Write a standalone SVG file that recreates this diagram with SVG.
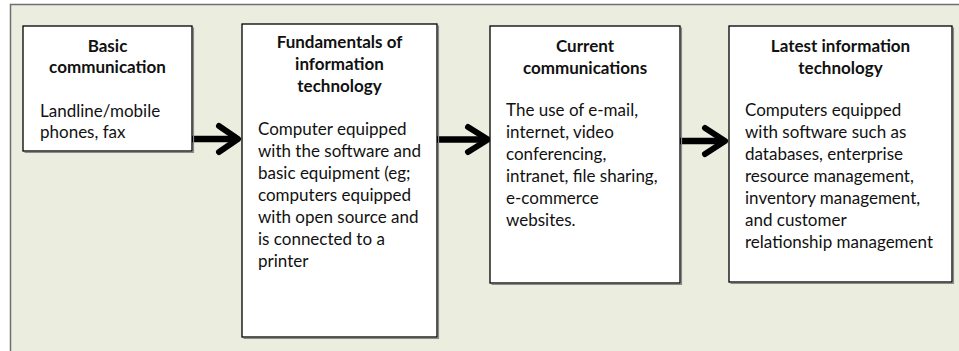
<svg xmlns="http://www.w3.org/2000/svg" width="959" height="351" viewBox="0 0 959 351">
  <style>
    .panel { fill: #ebeedf; stroke: #6f6f6f; stroke-width: 1.5; }
    .box { fill: #ffffff; stroke: #000000; stroke-width: 1.3; }
    .shadow { fill: none; stroke: #8a8a8a; stroke-width: 1.2; }
    .title { font-family: Lato, "Open Sans", sans-serif; font-size: 17px; font-weight: bold; fill: #111111; text-anchor: middle; }
    .body { font-family: Lato, "Open Sans", sans-serif; font-size: 17px; fill: #111111; }
    .shaft { fill: none; stroke: #000000; stroke-width: 6.5; }
    .head { fill: none; stroke: #000000; stroke-width: 6; stroke-linecap: round; stroke-linejoin: round; }
  </style>

  <rect width="959" height="351" fill="#ffffff"/>
  <!-- background panel -->
  <rect class="panel" x="10.5" y="4.5" width="960" height="360"/>

  <g id="connectors">
    <path class="shaft" d="M192,139 H236"/>
    <path class="head" d="M219,126 L238,139 L219,152"/>
    <path class="shaft" d="M437,139.5 H486"/>
    <path class="head" d="M468,127 L488,139.5 L468,152"/>
    <path class="shaft" d="M680,141 H724"/>
    <path class="head" d="M705,128 L725,141 L705,154"/>
  </g>

  <g id="basic-communication">
    <path class="shadow" d="M24.5,152.5 H193.5 V27.5"/>
    <rect class="box" x="23" y="26" width="169" height="125"/>
    <text class="title" x="107.5" y="52">Basic</text>
    <text class="title" x="107.5" y="73">communication</text>
    <text class="body" x="40" y="117">Landline/mobile</text>
    <text class="body" x="40" y="138">phones, fax</text>
  </g>

  <g id="fundamentals-it">
    <path class="shadow" d="M243.5,338.5 H438.5 V25.5"/>
    <rect class="box" x="242" y="24" width="195" height="313"/>
    <text class="title" x="339.5" y="48">Fundamentals of</text>
    <text class="title" x="339.5" y="70">information</text>
    <text class="title" x="339.5" y="92">technology</text>
    <text class="body" x="258" y="135">Computer equipped</text>
    <text class="body" x="258" y="157">with the software and</text>
    <text class="body" x="258" y="179">basic equipment (eg;</text>
    <text class="body" x="258" y="201">computers equipped</text>
    <text class="body" x="258" y="223">with open source and</text>
    <text class="body" x="258" y="245">is connected to a</text>
    <text class="body" x="258" y="267">printer</text>
  </g>

  <g id="current-communications">
    <path class="shadow" d="M491.5,284.5 H681.5 V27.5"/>
    <rect class="box" x="490" y="26" width="190" height="257"/>
    <text class="title" x="585" y="52">Current</text>
    <text class="title" x="585" y="74">communications</text>
    <text class="body" x="506" y="116">The use of e-mail,</text>
    <text class="body" x="506" y="138">internet, video</text>
    <text class="body" x="506" y="160">conferencing,</text>
    <text class="body" x="506" y="182">intranet, file sharing,</text>
    <text class="body" x="506" y="204">e-commerce</text>
    <text class="body" x="506" y="226">websites.</text>
  </g>

  <g id="latest-it">
    <path class="shadow" d="M730.5,283.5 H953.5 V27.5"/>
    <rect class="box" x="729" y="26" width="223" height="256"/>
    <text class="title" x="840.5" y="52">Latest information</text>
    <text class="title" x="840.5" y="74">technology</text>
    <text class="body" x="745" y="116">Computers equipped</text>
    <text class="body" x="745" y="138">with software such as</text>
    <text class="body" x="745" y="160">databases, enterprise</text>
    <text class="body" x="745" y="182">resource management,</text>
    <text class="body" x="745" y="204">inventory management,</text>
    <text class="body" x="745" y="226">and customer</text>
    <text class="body" x="745" y="248">relationship management</text>
  </g>
</svg>
